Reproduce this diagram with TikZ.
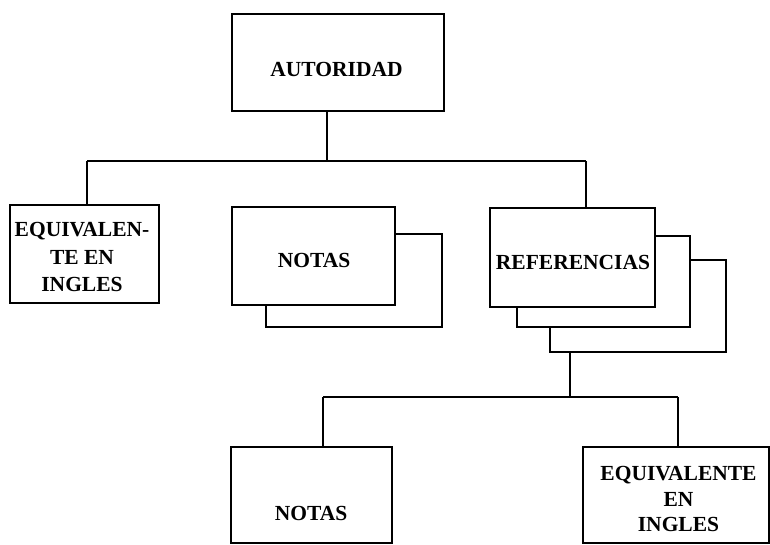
\documentclass[tikz,border=0pt]{standalone}
\usepackage{fontspec}
\setmainfont{Liberation Serif}
\begin{document}
\begin{tikzpicture}[x=1pt,y=-1pt,
  box/.style={draw,line width=2.2pt,fill=white,minimum width=#1,inner sep=0pt},
  lbl/.style={font=\fontsize{21.5}{27}\selectfont\bfseries,align=center,inner sep=0pt},
  conn/.style={line width=2.2pt}]
\useasboundingbox (0,0) rectangle (770,544);
% top
\node[box=212pt,minimum height=97pt] (aut) at (338,62.5) {};
\node[lbl] (taut) at (336.5,69) {AUTORIDAD};
% left
\node[box=149pt,minimum height=98pt] (eq1) at (84.5,254) {};
\node[lbl,font=\fontsize{21.5}{27.5}\selectfont\bfseries] (teq1) at (82,257) {EQUIVALEN-\\TE EN\\INGLES};
% notas with shadow
\node[box=176pt,minimum height=93pt] (notasb) at (354,280.5) {};
\node[box=163pt,minimum height=98pt] (notas1) at (313.5,256) {};
\node[lbl] (tnotas1) at (314,260) {NOTAS};
% referencias with two shadows
\node[box=176pt,minimum height=92pt] (refc) at (638,306) {};
\node[box=173pt,minimum height=91pt] (refb) at (603.5,281.5) {};
\node[box=165pt,minimum height=99pt] (ref) at (572.5,257.5) {};
\node[lbl] (tref) at (573,262) {REFERENCIAS};
% bottom
\node[box=161pt,minimum height=96pt] (notas2) at (311.5,495) {};
\node[lbl] (tnotas2) at (311,513) {NOTAS};
\node[box=186pt,minimum height=96pt] (eq2) at (676,495) {};
\node[lbl,font=\fontsize{21.5}{25.5}\selectfont\bfseries] (teq2) at (678.5,499) {EQUIVALENTE\\EN\\INGLES};
% connectors
\coordinate (j1) at (327,161);
\coordinate (jl) at (87,161);
\coordinate (jr) at (586,161);
\draw[conn] (aut.south -| j1) -- (j1);
\draw[conn] (jl) -- (jr);
\draw[conn] (jl) -- (eq1.north -| jl);
\draw[conn] (jr) -- (ref.north -| jr);
\coordinate (j2) at (570,397);
\coordinate (kl) at (323,397);
\coordinate (kr) at (678,397);
\draw[conn] (refc.south -| j2) -- (j2);
\draw[conn] (kl) -- (kr);
\draw[conn] (kl) -- (notas2.north -| kl);
\draw[conn] (kr) -- (eq2.north -| kr);
\end{tikzpicture}
\end{document}
